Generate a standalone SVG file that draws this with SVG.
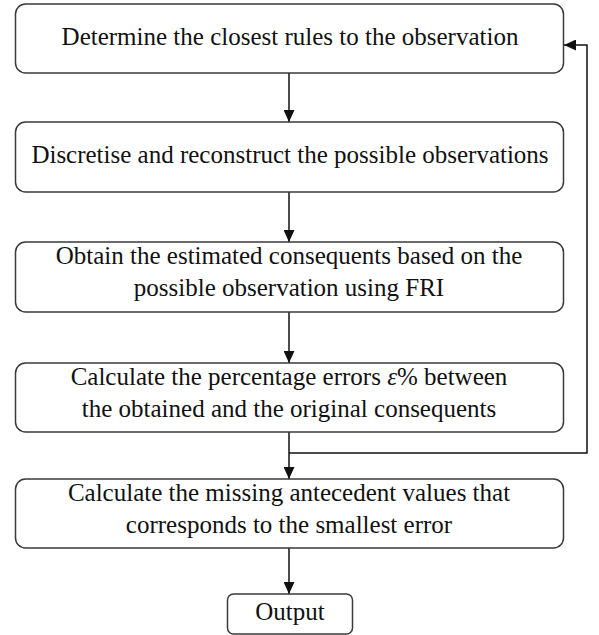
<svg xmlns="http://www.w3.org/2000/svg" width="599" height="635" viewBox="0 0 599 635">
<style>
.box{fill:#fff;stroke:#3a3a3a;stroke-width:1.5}
.t{font-family:'Liberation Serif','DejaVu Serif',serif;font-size:25px;fill:#111;text-anchor:middle}
.c{fill:none;stroke:#111;stroke-width:1.5}
</style>
<defs>
<marker id="ah" markerWidth="12" markerHeight="11" refX="12" refY="5.5" orient="auto" markerUnits="userSpaceOnUse">
<path d="M0,0 L12,5.5 L0,11 Z" fill="#111"/>
</marker>
</defs>
<rect width="599" height="635" fill="#fff"/>
<g id="connectors">
<line class="c" x1="289" y1="73" x2="289" y2="122" marker-end="url(#ah)"/>
<line class="c" x1="289" y1="192" x2="289" y2="242" marker-end="url(#ah)"/>
<line class="c" x1="289" y1="312" x2="289" y2="363" marker-end="url(#ah)"/>
<line class="c" x1="289" y1="432" x2="289" y2="479" marker-end="url(#ah)"/>
<line class="c" x1="289" y1="548" x2="289" y2="594" marker-end="url(#ah)"/>
<polyline class="c" points="289,453 587,453 587,45 564,45" marker-end="url(#ah)"/>
</g>
<g id="n1">
<rect class="box" x="15.5" y="4" width="548" height="69" rx="10"/>
<text class="t" font-family="Liberation Serif, serif" x="290" y="45">Determine the closest rules to the observation</text>
</g>
<g id="n2">
<rect class="box" x="15.5" y="122" width="548" height="70" rx="10"/>
<text class="t" x="290" y="163">Discretise and reconstruct the possible observations</text>
</g>
<g id="n3">
<rect class="box" x="15.5" y="242" width="548" height="70" rx="10"/>
<text class="t" x="289" y="264">Obtain the estimated consequents based on the</text>
<text class="t" x="289" y="296">possible observation using FRI</text>
</g>
<g id="n4">
<rect class="box" x="15.5" y="363" width="548" height="69" rx="10"/>
<text class="t" x="289" y="385">Calculate the percentage errors <tspan font-style="italic">ε</tspan>% between</text>
<text class="t" x="289" y="417">the obtained and the original consequents</text>
</g>
<g id="n5">
<rect class="box" x="15.5" y="479" width="548" height="69" rx="10"/>
<text class="t" x="289" y="501">Calculate the missing antecedent values that</text>
<text class="t" x="289" y="533">corresponds to the smallest error</text>
</g>
<g id="n6">
<rect class="box" x="227.5" y="594" width="125" height="40" rx="6"/>
<text class="t" x="290" y="620">Output</text>
</g>
</svg>
